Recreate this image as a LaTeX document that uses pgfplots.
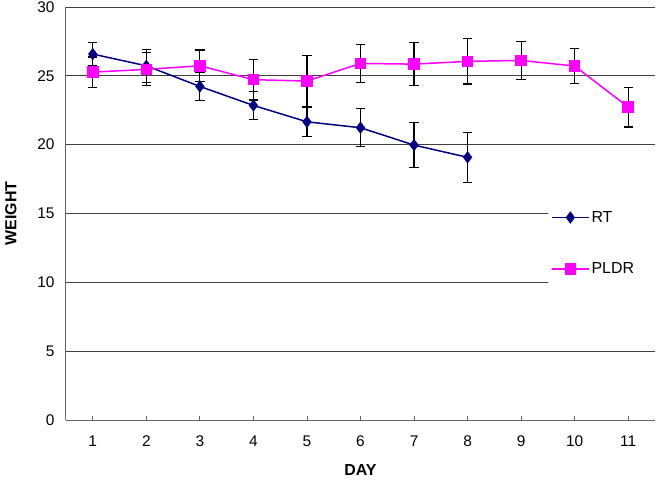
\documentclass[border=0pt]{standalone}
\usepackage{fontspec}
\setmainfont{Liberation Sans}
\usepackage{pgfplots}
\pgfplotsset{compat=1.18}
\definecolor{rtblue}{RGB}{0,0,128}
\definecolor{pldr}{RGB}{255,0,255}
\begin{document}
\begin{tikzpicture}
\useasboundingbox (-66bp,-60bp) rectangle (594bp,420bp);
\begin{axis}[
  at={(0,0)}, anchor=south west,
  scale only axis, width=589bp, height=413bp,
  xmin=0.5, xmax=11.5, ymin=0, ymax=30,
  xtick={1,...,11}, ytick={0,5,...,30},
  axis lines*=left,
  axis line style={draw=black!60, line width=1bp, -},
  ymajorgrids, grid style={black!75, line width=0.9bp},
  tick align=inside, major tick length=4bp,
  ytick style={draw=none},
  xtick style={draw=black!60, line width=0.8bp},
  /pgf/number format/assume math mode=true,
  tick label style={font=\fontsize{15.5}{18}\selectfont},
  yticklabel style={xshift=-8bp},
  xticklabel style={yshift=-12bp},
  xlabel={DAY}, ylabel={WEIGHT},
  label style={font=\fontsize{16}{19}\selectfont\bfseries},
  xlabel style={at={(axis description cs:0.5,-0.121)}, anchor=center},
  ylabel style={at={(axis description cs:-0.0934,0.5)}, anchor=center},
  legend style={at={(axis description cs:0.8183,0.530)}, anchor=north west,
    draw=none, fill=none, font=\fontsize{16}{19}\selectfont,
    row sep=35bp, inner xsep=3bp, inner ysep=8bp},
  legend cell align=left,
  legend image code/.code={\draw[mark repeat=2,mark phase=2] plot coordinates {(0cm,0cm) (0.65cm,0cm) (1.3cm,0cm)};},
]
\fill[white] (axis cs:9.5,8) rectangle (axis cs:11.6,17.5);
\addplot[rtblue, line width=1.5bp, mark=diamond*, mark size=5bp,
  mark options={fill=rtblue, draw=rtblue},
  error bars/.cd, y dir=both, y explicit,
  error bar style={black, line width=1.2bp},
  error mark options={rotate=90, black, mark size=4.7bp, line width=1.2bp}]
  table[x=x, y=y, y error=e] {
x y e
1 26.58 0.87
2 25.73 1.20
3 24.23 1.00
4 22.85 1.00
5 21.66 1.09
6 21.23 1.37
7 19.97 1.63
8 19.08 1.83
};
\addlegendentry{RT}
\addplot[pldr, line width=1.5bp, mark=square*, mark size=5bp,
  mark options={fill=pldr, draw=pldr},
  error bars/.cd, y dir=both, y explicit,
  error bar style={black, line width=1.2bp},
  error mark options={rotate=90, black, mark size=4.7bp, line width=1.2bp}]
  table[x=x, y=y, y error=e] {
x y e
1 25.27 1.10
2 25.47 1.20
3 25.73 1.14
4 24.72 1.48
5 24.62 1.88
6 25.90 1.39
7 25.85 1.55
8 26.05 1.65
9 26.12 1.40
10 25.71 1.25
11 22.73 1.45
};
\addlegendentry{PLDR}
\end{axis}
\end{tikzpicture}
\end{document}
